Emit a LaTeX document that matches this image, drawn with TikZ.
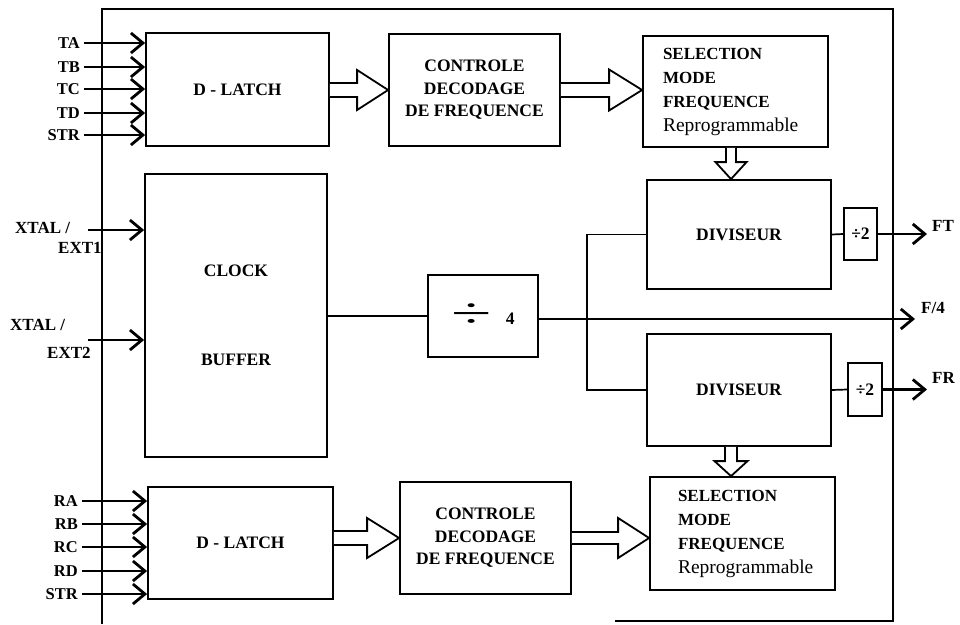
\documentclass[tikz,border=0pt]{standalone}
\usepackage{fontspec}
\setmainfont{Liberation Serif}
\usepackage{graphicx}
\usetikzlibrary{arrows.meta,calc}

\newcommand\blockH[5]{%
  \draw[hollow] ($(#1)+(0,-#4)$) -- ($(#2)+(-#3,-#4)$) -- ($(#2)+(-#3,-#5)$) -- (#2) -- ($(#2)+(-#3,#5)$) -- ($(#2)+(-#3,#4)$) -- ($(#1)+(0,#4)$);}
\newcommand\blockV[5]{%
  \draw[hollow] ($(#1)+(-#4,0)$) -- ($(#2)+(-#4,-#3)$) -- ($(#2)+(-#5,-#3)$) -- (#2) -- ($(#2)+(#5,-#3)$) -- ($(#2)+(#4,-#3)$) -- ($(#1)+(#4,0)$);}

\tikzset{
  box/.style={draw, line width=1.8pt, fill=white, inner sep=0pt, align=center,
    font=\bfseries\fontsize{17.5}{22.5}\selectfont},
  selbox/.style={box, align=left, font=\bfseries\fontsize{17}{24}\selectfont},
  inlbl/.style={font=\bfseries\fontsize{16.5}{18}\selectfont, inner xsep=4pt, inner ysep=0pt, anchor=east},
  xlbl/.style={font=\bfseries\fontsize{17}{20}\selectfont, inner sep=0pt, anchor=north west, align=left},
  tipbarb/.style={-{Straight Barb[length=12pt,width=20pt,line width=2.8pt]}},
  inarrow/.style={line width=2.6pt, tipbarb},
  hollow/.style={line width=1.8pt, fill=white, line join=miter},
  wire/.style={line width=1.7pt},
  thinwire/.style={line width=1.3pt},
  outlbl/.style={font=\bfseries\fontsize{17}{19}\selectfont, anchor=west, inner sep=0pt},
}

\begin{document}
\begin{tikzpicture}[x=1pt,y=-1pt]
\useasboundingbox (0,0) rectangle (960,624);

% outer frame
\draw[line width=1.8pt] (102,624) -- (102,9) -- (893,9) -- (893,622);
\draw[line width=1.3pt] (615,621) -- (893,621);

% blocks
\node[box, minimum width=183pt, minimum height=113pt] (dl1) at (237.5,89.5) {D - LATCH};
\node[box, minimum width=171pt, minimum height=112pt] (ctl1) at (474.5,90) {CONTROLE\\DECODAGE\\DE FREQUENCE};
\node[selbox, minimum width=185pt, minimum height=111pt, text width=145pt, inner xsep=20pt] (sel1) at (735.5,91.5)
  {SELECTION\\MODE\\FREQUENCE\\{\mdseries\fontsize{19.5}{24}\selectfont Reprogrammable}};
\node[box, minimum width=184pt, minimum height=109pt] (div1) at (739,234.5) {DIVISEUR};
\node[box, minimum width=33pt, minimum height=52pt] (half1) at (860.5,234) {÷2};
\node[box, minimum width=182pt, minimum height=283pt] (clk) at (236,315.5) {CLOCK\\[66pt]BUFFER};
\node[box, minimum width=110pt, minimum height=82pt] (q4) at (483,316) {\raisebox{-3pt}{\scalebox{4.2}[2.4]{\mdseries ÷}}\hspace{14pt}4};
\node[box, minimum width=184pt, minimum height=112pt] (div2) at (739,390) {DIVISEUR};
\node[box, minimum width=34pt, minimum height=53pt] (half2) at (865,389.5) {÷2};
\node[box, minimum width=185pt, minimum height=112pt] (dl2) at (240.5,543) {D - LATCH};
\node[box, minimum width=171pt, minimum height=112pt] (ctl2) at (485.5,538) {CONTROLE\\DECODAGE\\DE FREQUENCE};
\node[selbox, minimum width=185pt, minimum height=113pt, text width=129pt, inner xsep=28pt] (sel2) at (742.5,533.5)
  {SELECTION\\MODE\\FREQUENCE\\{\mdseries\fontsize{19.5}{24}\selectfont Reprogrammable}};

% hollow bus arrows
\coordinate (a1s) at (dl1.east |- ctl1.west);
\coordinate (a1t) at (ctl1.west);
\blockH{a1s}{a1t}{31}{7}{20}
\coordinate (a2s) at (ctl1.east);
\coordinate (a2t) at (sel1.west |- ctl1.east);
\blockH{a2s}{a2t}{33}{7}{20.5}
\coordinate (b1s) at (dl2.east |- ctl2.west);
\coordinate (b1t) at (ctl2.west);
\blockH{b1s}{b1t}{32}{7}{20}
\coordinate (b2s) at (ctl2.east);
\coordinate (b2t) at (sel2.west |- ctl2.east);
\blockH{b2s}{b2t}{31}{6}{20}
\coordinate (v1s) at ($(sel1.south)+(-4.5,0)$);
\coordinate (v1t) at (v1s |- div1.north);
\blockV{v1s}{v1t}{17}{5}{15.5}
\coordinate (v2s) at ($(div2.south)+(-8,0)$);
\coordinate (v2t) at (v2s |- sel2.north);
\blockV{v2s}{v2t}{15}{6}{16.5}

% top inputs
\foreach \n/\t/\y in {ta/TA/43, tb/TB/67, tc/TC/89, td/TD/113, ts/STR/135}{
  \node[inlbl] (\n) at (84,\y) {\t};
  \draw[inarrow] (\n.east) -- (\n.east -| dl1.west);
}
% bottom inputs
\foreach \n/\t/\y in {ra/RA/501, rb/RB/524, rc/RC/547, rd/RD/571, rs/STR/594}{
  \node[inlbl] (\n) at (82,\y) {\t};
  \draw[inarrow] (\n.east) -- (\n.east -| dl2.west);
}

% clock inputs
\node[xlbl] (x1l) at (15,222) {XTAL /\\\hspace*{43pt}EXT1};
\coordinate (x1s) at (88,230);
\draw[inarrow] (x1s) -- (x1s -| clk.west);
\node[xlbl, font=\bfseries\fontsize{17}{28}\selectfont] (x2l) at (10,319) {XTAL /\\\hspace*{37pt}EXT2};
\coordinate (x2s) at (88,340);
\draw[inarrow] (x2s) -- (x2s -| clk.west);

% clock path
\draw[thinwire] (clk.east |- q4.west) -- (q4.west);
\coordinate (f4end) at (915,319);
\coordinate (br) at (587,319);
\draw[wire, tipbarb] (q4.east |- f4end) -- (f4end);
\draw[wire] (div1.west) -| (br) |- (div2.west);
\draw[wire] (div1.east) -- (half1.west);
\draw[wire] (div2.east) -- (half2.west);

% outputs
\coordinate (ftend) at (927,234);
\draw[inarrow] (half1.east) -- (ftend);
\coordinate (frend) at (927,389.5);
\draw[inarrow] (half2.east) -- (frend);
\node[outlbl] (ftl) at (932,226) {FT};
\node[outlbl] (f4l) at (921,308) {F/4};
\node[outlbl] (frl) at (932,378) {FR};
\end{tikzpicture}
\end{document}
